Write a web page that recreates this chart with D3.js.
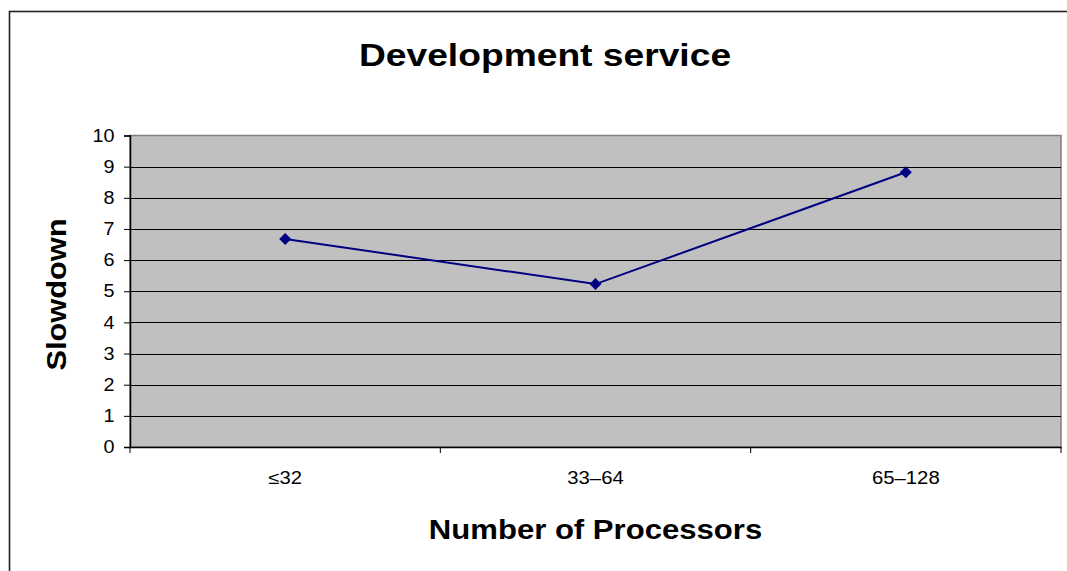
<!DOCTYPE html>
<html><head><meta charset="utf-8">
<script src="https://cdn.jsdelivr.net/npm/d3@7"></script>
<style>body{margin:0;background:#fff}svg{display:block}text{font-family:"Liberation Sans",Arial,sans-serif}</style>
</head><body><svg id="c" width="1067" height="571"></svg>
<script>
const categories = ["≤32", "33–64", "65–128"];
const slowdown = [6.68, 5.23, 8.82];
const yTicks = [0,1,2,3,4,5,6,7,8,9,10];
const title = "Development service";
const xTitle = "Number of Processors";
const yTitle = "Slowdown";

const svg = d3.select("#c");
const L = 130, R = 1061, T = 135.5, B = 447;
const x = d3.scaleBand().domain(categories).range([L, R]);
const y = d3.scaleLinear().domain([0, 10]).range([B, T]);
const FONT = "Liberation Sans, Arial, sans-serif";

svg.append("rect").attr("x", 9.5).attr("y", 11.5).attr("width", 1100).attr("height", 600)
  .attr("fill", "#fff").attr("stroke", "#222").attr("stroke-width", 1.6);

svg.append("rect").attr("x", L).attr("y", T).attr("width", R - L).attr("height", B - T)
  .attr("fill", "#C0C0C0").attr("stroke", "#808080").attr("stroke-width", 1.5);

// gridlines
svg.append("g").selectAll("line").data(yTicks.filter(d => d > 0 && d < 10)).join("line")
  .attr("x1", L).attr("x2", R).attr("y1", d => Math.round(y(d)) + 0.5).attr("y2", d => Math.round(y(d)) + 0.5)
  .attr("stroke", "#000").attr("stroke-width", 1);

// y axis
const ya = svg.append("g").attr("transform", `translate(${L},0)`)
  .call(d3.axisLeft(y).tickValues(yTicks).tickSize(6).tickPadding(0));
ya.select(".domain").attr("stroke", "#000").attr("stroke-width", 1.5);
ya.selectAll(".tick line").attr("stroke", "#000");
ya.selectAll("text").attr("x", null).attr("font-size", 17.5).attr("fill", "#000").style("font-family", FONT)
  .attr("transform", "translate(-15.5,0) scale(1.13,1)");

// x axis
const xa = svg.append("g").attr("transform", `translate(0,${B})`)
  .call(d3.axisBottom(x).tickSize(0).tickPadding(25));
xa.select(".domain").attr("stroke", "#000").attr("stroke-width", 1.5);
xa.selectAll("text").attr("font-size", 17.5).attr("fill", "#000").style("font-family", FONT)
  .attr("transform", "scale(1.16,1)").attr("x", 0);
const bounds = categories.map(c => x(c)).concat([R]);
svg.append("g").selectAll("line").data(bounds).join("line")
  .attr("x1", d => d).attr("x2", d => d).attr("y1", B).attr("y2", B + 6)
  .attr("stroke", "#000").attr("stroke-width", 1);

// line + markers
const cx = c => x(c) + x.bandwidth() / 2;
svg.append("path").datum(categories.map((c, i) => [cx(c), y(slowdown[i])]))
  .attr("d", d3.line()).attr("fill", "none").attr("stroke", "#000080").attr("stroke-width", 2);
svg.append("g").selectAll("path").data(categories).join("path")
  .attr("transform", (c, i) => `translate(${cx(c)},${y(slowdown[i])})`)
  .attr("d", "M0,-6L6,0L0,6L-6,0Z").attr("fill", "#000080");

svg.append("text").attr("transform", "translate(545,66) scale(1.2,1)").attr("text-anchor", "middle")
  .attr("font-size", 31).attr("font-weight", "bold").text(title);
svg.append("text").attr("transform", "translate(595.5,538.5) scale(1.11,1)").attr("text-anchor", "middle")
  .attr("font-size", 28).attr("font-weight", "bold").text(xTitle);
svg.append("text").attr("transform", "translate(66,294.5) rotate(-90) scale(1.1,1)").attr("text-anchor", "middle")
  .attr("font-size", 28).attr("font-weight", "bold").text(yTitle);
</script></body></html>
